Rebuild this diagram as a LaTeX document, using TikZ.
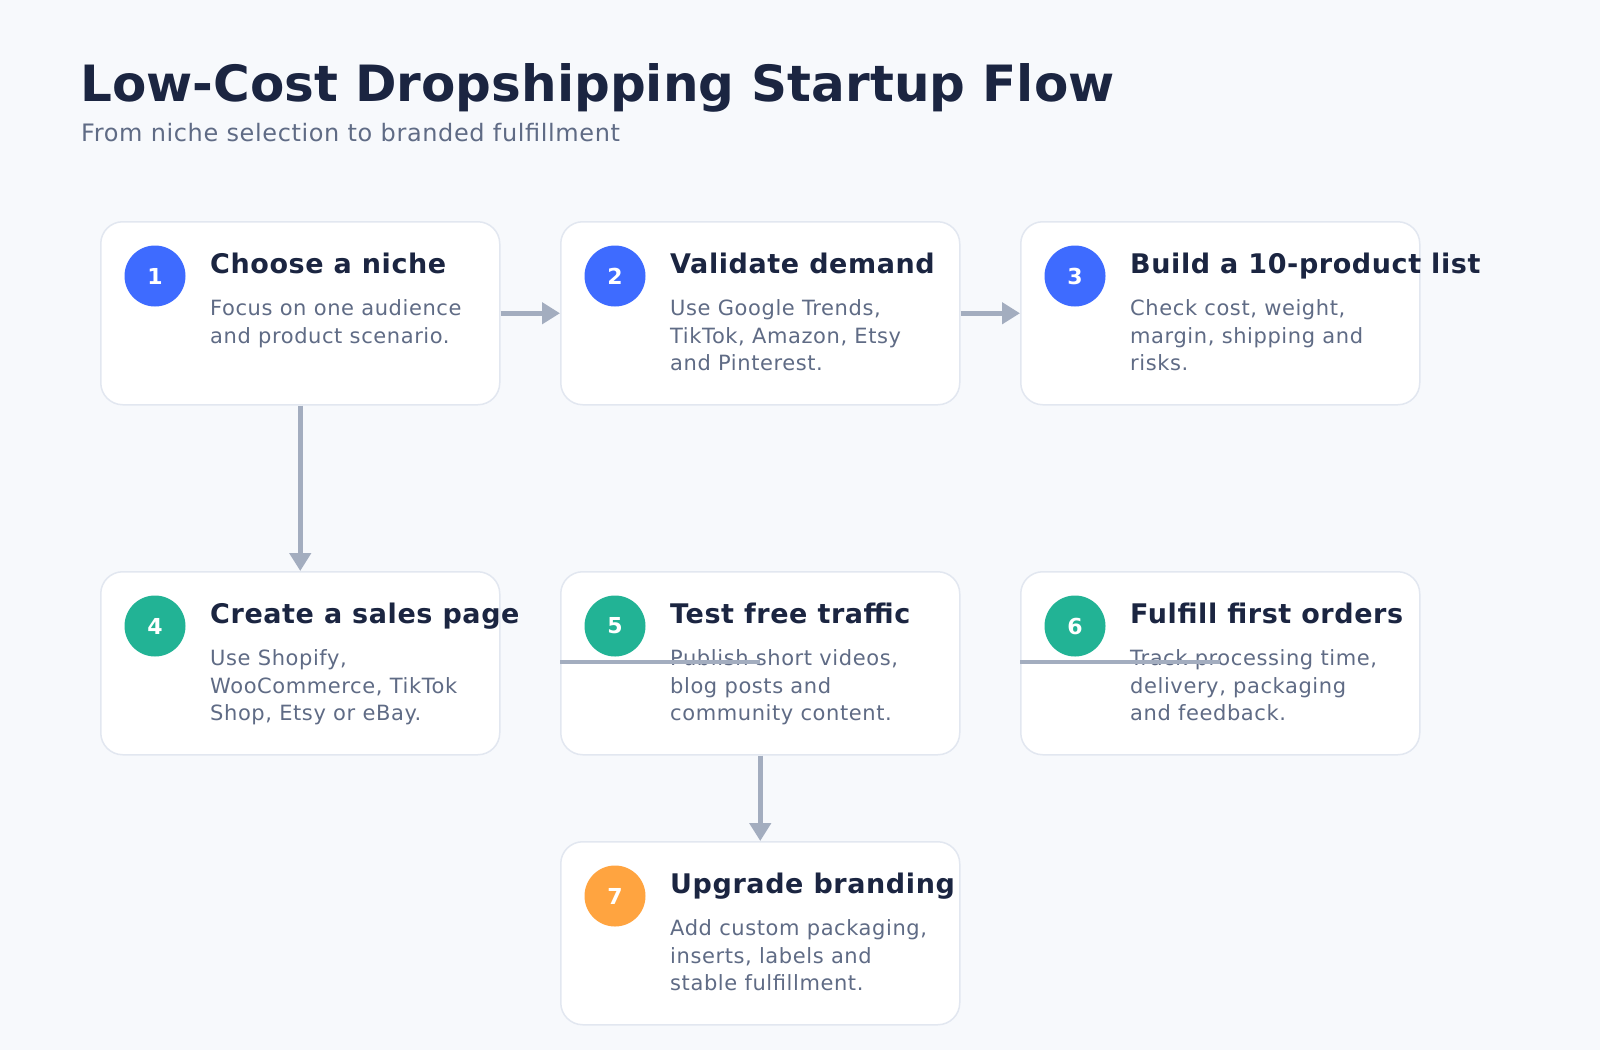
\documentclass[tikz,border=0pt]{standalone}
\usepackage{fontspec}
\setmainfont{DejaVu Sans}
\newfontfamily\mysubfont[LetterSpace=2.6]{DejaVu Sans}
\newfontfamily\myheadfont[LetterSpace=2.2]{DejaVu Sans}
\newfontfamily\mybodyfont[LetterSpace=2.8]{DejaVu Sans}
\usetikzlibrary{arrows.meta}
\definecolor{bgc}{HTML}{F7F9FC}
\definecolor{cardline}{HTML}{E2E7F0}
\definecolor{titlec}{HTML}{1B2541}
\definecolor{mutedc}{HTML}{5F6B85}
\definecolor{arrowc}{HTML}{A3ADBF}
\definecolor{bluec}{HTML}{3E6BFF}
\definecolor{greenc}{HTML}{22B395}
\definecolor{orangec}{HTML}{FFA440}
\newcommand{\flowbox}[7]{%
  \node[card] (#1) at (#2,#3) {};
  \node[badge, fill=#4] (#1n) at (#2+55,#3+55) {#5};
  \node[heading] (#1h) at (#2+110,#3+52.5) {#6};
  \node[bodytext] (#1t) at (#2+110,#3+94.5) {\parbox[t]{340pt}{\raggedright #7}};
}
\begin{document}
\begin{tikzpicture}[x=1pt,y=-1pt,
  card/.style={draw=cardline, fill=white, line width=1.5pt, rounded corners=22pt,
    minimum width=399pt, minimum height=183pt, anchor=north west, inner sep=0pt},
  badge/.style={circle, minimum size=61pt, inner sep=0pt, text=white,
    font=\fontsize{22}{26}\selectfont\bfseries},
  heading/.style={anchor=base west, inner sep=0pt, text=titlec,
    font=\myheadfont\fontsize{27}{32}\selectfont\bfseries},
  bodytext/.style={anchor=base west, inner sep=0pt, text=mutedc,
    font=\mybodyfont\fontsize{21}{27.5}\selectfont},
  arrow/.style={draw=arrowc, line width=4.5pt, -{Triangle[width=21pt,length=18pt]}},
  link/.style={draw=arrowc, line width=4.5pt}]
\useasboundingbox (0,0) rectangle (1600,1050);
\fill[bgc] (0,0) rectangle (1600,1050);
\node[anchor=base west, inner sep=0pt, text=titlec, font=\fontsize{50}{60}\selectfont\bfseries] (title) at (80,101.5) {Low-Cost Dropshipping Startup Flow};
\node[anchor=base west, inner sep=0pt, text=mutedc, font=\mysubfont\fontsize{24}{28}\selectfont] (subtitle) at (81,141.5) {From niche selection to branded fulfillment};
\flowbox{b1}{100}{221}{bluec}{1}{Choose a niche}{Focus on one audience\\and product scenario.}
\flowbox{b2}{560}{221}{bluec}{2}{Validate demand}{Use Google Trends,\\TikTok, Amazon, Etsy\\and Pinterest.}
\flowbox{b3}{1020}{221}{bluec}{3}{Build a 10-product list}{Check cost, weight,\\margin, shipping and\\risks.}
\flowbox{b4}{100}{571}{greenc}{4}{Create a sales page}{Use Shopify,\\WooCommerce, TikTok\\Shop, Etsy or eBay.}
\flowbox{b5}{560}{571}{greenc}{5}{Test free traffic}{Publish short videos,\\blog posts and\\community content.}
\flowbox{b6}{1020}{571}{greenc}{6}{Fulfill first orders}{Track processing time,\\delivery, packaging\\and feedback.}
\flowbox{b7}{560}{841}{orangec}{7}{Upgrade branding}{Add custom packaging,\\inserts, labels and\\stable fulfillment.}
\draw[arrow] (b1.east) -- (b2.west);
\draw[arrow] (b2.east) -- (b3.west);
\draw[arrow] (b1.south) -- (b4.north);
\draw[arrow] (b5.south) -- (b7.north);
\draw[link] ([yshift=1.5pt]b5.west) -- ([yshift=1.5pt]b5.center);
\draw[link] ([yshift=1.5pt]b6.west) -- ([yshift=1.5pt]b6.center);
\end{tikzpicture}
\end{document}
